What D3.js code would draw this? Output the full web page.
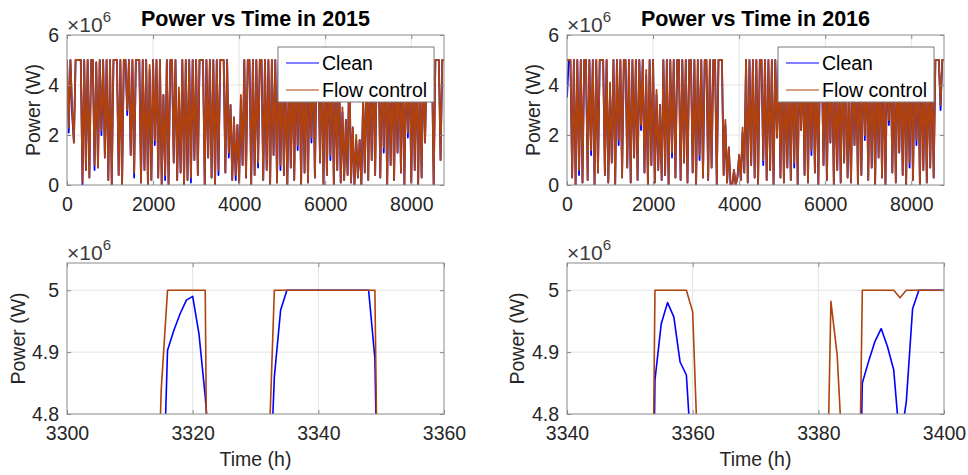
<!DOCTYPE html>
<html>
<head>
<meta charset="utf-8">
<script src="https://cdn.jsdelivr.net/npm/d3@7"></script>
<style>
  body { margin: 0; background: #fff; }
  svg { font-family: "Liberation Sans", Arial, sans-serif; }
</style>
</head>
<body>
<svg id="chart" width="968" height="475"></svg>
<script>
// ---- data (power in MW) ----
// full-year series, one sample every 40 h
const sampleStep = 40

const flow2015 = [
  5, 2.3, 5, 3.1, 1.7, 5, 5, 5, 5, 0.1,
  5, 0.6, 5, 0.3, 5, 5, 0.8, 4.9, 0.7, 5,
  2.2, 5, 1.1, 5, 0.2, 5, 0, 5, 5, 5,
  0.4, 5, 0, 5, 5, 3.0, 5, 1.2, 5, 0.5,
  5, 5, 5, 0.1, 5, 0.6, 5, 0, 4.8, 0.2,
  5, 1.8, 5, 0.3, 5, 0, 3.6, 0.4, 5, 0,
  5, 5, 0.9, 5, 0.2, 3.9, 0.5, 5, 0, 5,
  0.2, 5, 0.3, 5, 1.0, 5, 0.4, 5, 5, 5,
  0, 5, 1.1, 5, 0.3, 5, 0, 5, 0.6, 5,
  5, 5, 0.5, 5, 1.3, 3.2, 0.2, 2.7, 0.4, 2.4,
  0.1, 3.6, 0.8, 5, 0.3, 5, 5, 0, 5, 0.4,
  5, 0.9, 5, 5, 0.2, 5, 0.6, 5, 0, 5,
  1.2, 5, 0.1, 5, 0.8, 5, 0.4, 4.5, 0, 5,
  0.7, 5, 0.2, 5, 1.6, 5, 0, 5, 0.5, 5,
  0.1, 5, 1.9, 5, 0.3, 5, 5, 0.9, 5, 0,
  5, 0.4, 5, 1.2, 5, 0, 4.2, 0.6, 5, 0.1,
  3.1, 0.2, 2.6, 0.4, 5, 0.1, 2.3, 0, 2.0, 0.3,
  1.8, 0, 3.5, 0.5, 5, 0.2, 5, 1.0, 5, 0.4,
  5, 5, 0.3, 5, 1.5, 5, 0, 5, 0.8, 5,
  0.2, 5, 1.3, 5, 0.5, 5, 0, 5, 2.1, 5,
  0.1, 5, 0.6, 5, 0, 4.6, 0.3, 5, 1.7, 5,
  5, 5, 5, 0, 5, 5, 5, 1.0, 5, 5
]
const clean2015 = [
  5, 2.1, 5, 2.8, 1.7, 5, 5, 5, 5, 0,
  5, 0.6, 5, 0.3, 5, 5, 0.6, 4.9, 0.7, 5,
  2.0, 5, 1.1, 5, 0.2, 5, 0, 5, 5, 5,
  0.4, 5, 0, 5, 5, 2.8, 5, 1.2, 5, 0.3,
  5, 5, 5, 0.1, 5, 0.6, 5, 0, 4.6, 0.2,
  5, 1.6, 5, 0.3, 5, 0, 3.6, 0.2, 5, 0,
  5, 5, 0.9, 5, 0.2, 3.6, 0.5, 5, 0, 5,
  0.2, 5, 0.1, 5, 1.0, 5, 0.4, 5, 5, 5,
  0, 5, 1.1, 5, 0.3, 5, 0, 5, 0.4, 5,
  5, 5, 0.5, 5, 1.1, 3.2, 0.2, 2.7, 0.2, 2.4,
  0.1, 3.4, 0.8, 5, 0.3, 5, 5, 0, 5, 0.4,
  5, 0.7, 5, 5, 0.2, 5, 0.6, 5, 0, 5,
  1.2, 5, 0.1, 5, 0.6, 5, 0.4, 4.5, 0, 5,
  0.7, 5, 0.2, 5, 1.4, 5, 0, 5, 0.5, 5,
  0.1, 5, 1.7, 5, 0.3, 5, 5, 0.9, 5, 0,
  5, 0.4, 5, 1.0, 5, 0, 4.2, 0.6, 5, 0.1,
  2.9, 0.2, 2.6, 0.4, 5, 0.1, 2.3, 0, 1.8, 0.3,
  1.8, 0, 3.3, 0.5, 5, 0.2, 5, 1.0, 5, 0.4,
  5, 5, 0.3, 5, 1.3, 5, 0, 5, 0.8, 5,
  0.2, 5, 1.3, 5, 0.5, 5, 0, 5, 1.9, 5,
  0.1, 5, 0.6, 5, 0, 4.6, 0.3, 5, 1.7, 5,
  5, 5, 5, 0, 5, 5, 5, 1.0, 5, 5
]

const flow2016 = [
  5, 5, 5, 0.3, 5, 0, 5, 0.6, 5, 0.1,
  5, 5, 0.2, 5, 1.4, 5, 0, 5, 0.5, 5,
  5, 5, 0.4, 5, 0.1, 4.1, 0.9, 5, 0, 5,
  1.8, 5, 0.3, 5, 5, 0.7, 5, 0.1, 5, 1.1,
  5, 0.2, 5, 2.4, 5, 0.5, 4.6, 0, 5, 0.8,
  5, 0.1, 3.8, 0.6, 3.2, 0.2, 5, 0.4, 5, 0,
  5, 1.3, 5, 0.3, 5, 5, 0.2, 5, 0.9, 5,
  0.1, 5, 5, 0.5, 5, 0, 5, 1.2, 5, 0.3,
  5, 5, 0.2, 5, 0.7, 5, 5, 0, 5, 5,
  5, 0.4, 2.6, 0.1, 1.5, 0, 0, 0.6, 0, 0.3,
  1.2, 0.2, 2.3, 0.5, 5, 0.1, 5, 0.8, 5, 0.3,
  5, 0, 5, 5, 1.0, 5, 0.2, 5, 0.6, 5,
  0, 5, 1.9, 5, 0.3, 5, 0.1, 4.3, 0.7, 5,
  0.2, 5, 0.9, 5, 0, 5, 2.2, 5, 0.4, 5,
  0.1, 5, 1.4, 5, 0.5, 5, 0, 5, 5, 0.8,
  5, 0.2, 5, 1.7, 5, 0, 4.4, 0.6, 5, 0.1,
  5, 0.9, 5, 0.3, 3.7, 0.1, 5, 1.6, 5, 0,
  5, 0.4, 5, 2.0, 5, 0.2, 5, 0.7, 4.8, 0,
  5, 1.1, 5, 0.3, 5, 0, 5, 2.6, 5, 0.5,
  5, 0.1, 5, 1.3, 5, 0.4, 5, 0, 5, 0.9,
  5, 0.2, 5, 1.8, 5, 0, 5, 0.6, 5, 0.1,
  5, 0.7, 5, 0.3, 5, 5, 5, 3.2, 5, 5
]
const clean2016 = [
  3.5, 5, 5, 0.3, 5, 0, 5, 0.4, 5, 0.1,
  5, 5, 0.2, 5, 1.2, 5, 0, 5, 0.5, 5,
  5, 5, 0.4, 5, 0.1, 3.9, 0.9, 5, 0, 5,
  1.6, 5, 0.3, 5, 5, 0.7, 5, 0.1, 5, 1.1,
  5, 0.2, 5, 2.2, 5, 0.5, 4.4, 0, 5, 0.8,
  5, 0.1, 3.6, 0.6, 3.2, 0.2, 5, 0.4, 5, 0,
  5, 1.1, 5, 0.3, 5, 5, 0.2, 5, 0.9, 5,
  0.1, 5, 5, 0.5, 5, 0, 5, 1.0, 5, 0.3,
  5, 5, 0.2, 5, 0.7, 5, 5, 0, 5, 5,
  5, 0.4, 2.4, 0.1, 1.5, 0, 0, 0.6, 0, 0.3,
  1.2, 0.2, 2.1, 0.5, 5, 0.1, 5, 0.8, 5, 0.3,
  5, 0, 5, 5, 0.8, 5, 0.2, 5, 0.6, 5,
  0, 5, 1.9, 5, 0.3, 5, 0.1, 4.1, 0.7, 5,
  0.2, 5, 0.7, 5, 0, 5, 2.2, 5, 0.4, 5,
  0.1, 5, 1.2, 5, 0.5, 5, 0, 5, 5, 0.8,
  5, 0.2, 5, 1.7, 5, 0, 4.2, 0.6, 5, 0.1,
  5, 0.9, 5, 0.3, 3.5, 0.1, 5, 1.6, 5, 0,
  5, 0.4, 5, 1.8, 5, 0.2, 5, 0.7, 4.6, 0,
  5, 1.1, 5, 0.3, 5, 0, 5, 2.4, 5, 0.5,
  5, 0.1, 5, 1.3, 5, 0.4, 5, 0, 5, 0.7,
  5, 0.2, 5, 1.6, 5, 0, 5, 0.6, 5, 0.1,
  5, 0.7, 5, 0.3, 5, 5, 5, 3.0, 5, 5
]

// hourly close-ups
const zoomStart2015 = 3300
const clean2015Zoom = [
  1.2, 0.8, 0.5, 0.9, 1.6, 2.4, 3.1, 2.7, 2.2, 2.9,
  3.5, 3.9, 4.1, 4.3, 4.4, 4.56, 4.903, 4.935, 4.962, 4.984,
  4.990, 4.930, 4.828, 4.70, 4.3, 3.6, 3.0, 2.6, 2.9, 3.4,
  3.9, 4.3, 4.6, 4.86, 4.968, 5, 5, 5, 5, 5,
  5, 5, 5, 5, 5, 5, 5, 5, 5, 4.89,
  4.33, 3.8, 3.1, 2.5, 2.0, 1.6, 1.3, 1.1, 0.9, 1.0,
  1.2
]
const flow2015Zoom = [
  1.4, 1.0, 0.7, 1.1, 1.9, 2.8, 3.5, 3.1, 2.6, 3.3,
  3.9, 4.2, 4.3, 4.4, 4.5, 4.84, 5, 5, 5, 5,
  5, 5, 5, 3.8, 3.5, 3.2, 2.9, 2.8, 3.1, 3.6,
  4.0, 4.4, 4.70, 5, 5, 5, 5, 5, 5, 5,
  5, 5, 5, 5, 5, 5, 5, 5, 5, 5,
  4.2, 3.9, 3.3, 2.8, 2.3, 1.9, 1.6, 1.4, 1.2, 1.3,
  1.5
]
const zoomStart2016 = 3340
const clean2016Zoom = [
  2.1, 2.5, 2.9, 3.3, 3.0, 2.6, 2.8, 3.2, 3.6, 3.9,
  4.1, 4.2, 4.3, 4.0, 4.855, 4.946, 4.980, 4.957, 4.884, 4.863,
  4.70, 4.2, 3.6, 3.1, 2.6, 2.2, 1.9, 1.7, 1.6, 1.8,
  2.1, 2.5, 2.8, 3.2, 3.5, 3.8, 4.0, 4.1, 4.2, 4.3,
  4.3, 4.2, 4.4, 4.3, 4.1, 4.0, 4.3, 4.85, 4.885, 4.917,
  4.938, 4.909, 4.871, 4.75, 4.82, 4.97, 5, 5, 5, 5,
  5
]
const flow2016Zoom = [
  2.4, 2.8, 3.2, 3.6, 3.3, 2.9, 3.1, 3.5, 3.9, 4.2,
  4.4, 4.5, 4.4, 4.0, 5, 5, 5, 5, 5, 5,
  4.965, 4.68, 4.3, 3.9, 3.4, 2.9, 2.5, 2.2, 2.0, 1.9,
  2.1, 2.4, 2.8, 3.1, 3.5, 3.8, 4.1, 4.3, 4.4, 4.5,
  4.6, 4.45, 4.982, 4.895, 4.7, 4.5, 4.3, 5, 5, 5,
  5, 5, 5, 4.988, 5, 5, 5, 5, 5, 5,
  5
]

const seriesNames = ['Clean', 'Flow control']
const titles = ['Power vs Time in 2015', 'Power vs Time in 2016']
const yearTicks = [0, 2000, 4000, 6000, 8000]
const yearPowerTicks = [0, 2, 4, 6]
const zoomPowerTicks = [4.8, 4.9, 5]
const zoomTicks2015 = [3300, 3320, 3340, 3360]
const zoomTicks2016 = [3340, 3360, 3380, 3400]

// ---- style ----
const cleanColor = '#0000ff'
const flowColor = '#b0420e'
const axisColor = '#8a8a8a'
const gridColor = '#e4e4e4'
const textColor = '#262626'
const fontSize = 19.5

const svg = d3.select('#chart')

const panels = [
  {
    left: 67, right: 444, top: 35, bottom: 185,
    xDomain: [0, 8760], yDomain: [0, 6],
    xTicks: yearTicks, yTicks: yearPowerTicks,
    title: titles[0], legend: true, ylabelX: 40, xlabel: false,
    series: [
      { values: clean2015, start: 0, step: sampleStep, color: cleanColor, width: 1.8 },
      { values: flow2015, start: 0, step: sampleStep, color: flowColor, width: 1.8 }
    ]
  },
  {
    left: 567, right: 944, top: 35, bottom: 185,
    xDomain: [0, 8760], yDomain: [0, 6],
    xTicks: yearTicks, yTicks: yearPowerTicks,
    title: titles[1], legend: true, ylabelX: 540, xlabel: false,
    series: [
      { values: clean2016, start: 0, step: sampleStep, color: cleanColor, width: 1.8 },
      { values: flow2016, start: 0, step: sampleStep, color: flowColor, width: 1.8 }
    ]
  },
  {
    left: 67, right: 444, top: 263, bottom: 414,
    xDomain: [3300, 3360], yDomain: [4.8, 5.044],
    xTicks: zoomTicks2015, yTicks: zoomPowerTicks,
    title: null, legend: false, ylabelX: 25, xlabel: true,
    series: [
      { values: clean2015Zoom, start: zoomStart2015, step: 1, color: cleanColor, width: 1.6 },
      { values: flow2015Zoom, start: zoomStart2015, step: 1, color: flowColor, width: 1.6 }
    ]
  },
  {
    left: 567, right: 944, top: 263, bottom: 414,
    xDomain: [3340, 3400], yDomain: [4.8, 5.044],
    xTicks: zoomTicks2016, yTicks: zoomPowerTicks,
    title: null, legend: false, ylabelX: 524, xlabel: true,
    series: [
      { values: clean2016Zoom, start: zoomStart2016, step: 1, color: cleanColor, width: 1.6 },
      { values: flow2016Zoom, start: zoomStart2016, step: 1, color: flowColor, width: 1.6 }
    ]
  }
]

function styleAxis(sel) {
  sel.attr('font-size', fontSize).attr('font-family', null)
  sel.select('.domain').remove()
  sel.selectAll('line').attr('stroke', axisColor)
  sel.selectAll('text').attr('fill', textColor)
}

panels.forEach((p, pi) => {
  const g = svg.append('g')
  const x = d3.scaleLinear().domain(p.xDomain).range([p.left, p.right])
  const y = d3.scaleLinear().domain(p.yDomain).range([p.bottom, p.top])

  // grid
  g.selectAll('line.gx')
    .data(p.xTicks.filter(d => x(d) > p.left + 1 && x(d) < p.right - 1))
    .enter().append('line')
    .attr('x1', d => x(d)).attr('x2', d => x(d))
    .attr('y1', p.top).attr('y2', p.bottom)
    .attr('stroke', gridColor)
  g.selectAll('line.gy')
    .data(p.yTicks.filter(d => y(d) > p.top + 1 && y(d) < p.bottom - 1))
    .enter().append('line')
    .attr('y1', d => y(d)).attr('y2', d => y(d))
    .attr('x1', p.left).attr('x2', p.right)
    .attr('stroke', gridColor)

  // lines
  const clipId = 'clip' + pi
  svg.append('clipPath').attr('id', clipId)
    .append('rect')
    .attr('x', p.left).attr('y', p.top)
    .attr('width', p.right - p.left).attr('height', p.bottom - p.top)

  p.series.forEach(s => {
    const line = d3.line()
      .x((d, i) => x(s.start + i * s.step))
      .y(d => y(d))
    g.append('path')
      .datum(s.values)
      .attr('clip-path', `url(#${clipId})`)
      .attr('d', line)
      .attr('fill', 'none')
      .attr('stroke', s.color)
      .attr('stroke-width', s.width)
      .attr('stroke-linejoin', 'round')
  })

  // axes (inward ticks, MATLAB box style)
  const fmt = d => String(+d.toFixed(2))
  g.append('g').attr('transform', `translate(0,${p.bottom})`)
    .call(d3.axisBottom(x).tickValues(p.xTicks).tickSizeInner(-4).tickSizeOuter(0).tickPadding(12).tickFormat(d3.format('d')))
    .call(styleAxis)
  g.append('g').attr('transform', `translate(0,${p.top})`)
    .call(d3.axisTop(x).tickValues(p.xTicks).tickSizeInner(-4).tickSizeOuter(0).tickFormat(''))
    .call(styleAxis)
  g.append('g').attr('transform', `translate(${p.left},0)`)
    .call(d3.axisLeft(y).tickValues(p.yTicks).tickSizeInner(-4).tickSizeOuter(0).tickPadding(8).tickFormat(fmt))
    .call(styleAxis)
  g.append('g').attr('transform', `translate(${p.right},0)`)
    .call(d3.axisRight(y).tickValues(p.yTicks).tickSizeInner(-4).tickSizeOuter(0).tickFormat(''))
    .call(styleAxis)

  g.append('rect')
    .attr('x', p.left).attr('y', p.top)
    .attr('width', p.right - p.left).attr('height', p.bottom - p.top)
    .attr('fill', 'none').attr('stroke', axisColor).attr('stroke-width', 1)

  // exponent
  const ex = g.append('text')
    .attr('x', p.left).attr('y', p.top - 3.5)
    .attr('fill', '#3c3c3c').attr('font-size', 21)
  ex.append('tspan').text('\u00d710')
  ex.append('tspan').attr('dy', -10).attr('font-size', 15).text('6')

  // y label
  g.append('text')
    .attr('transform', `translate(${p.ylabelX},${(p.top + p.bottom) / 2}) rotate(-90)`)
    .attr('text-anchor', 'middle')
    .attr('fill', textColor).attr('font-size', fontSize)
    .text('Power (W)')

  if (p.xlabel) {
    g.append('text')
      .attr('x', (p.left + p.right) / 2).attr('y', 466)
      .attr('text-anchor', 'middle')
      .attr('fill', textColor).attr('font-size', fontSize)
      .text('Time (h)')
  }

  if (p.title) {
    g.append('text')
      .attr('x', (p.left + p.right) / 2).attr('y', 26)
      .attr('text-anchor', 'middle')
      .attr('font-weight', 'bold').attr('font-size', 21.5)
      .attr('fill', '#000')
      .text(p.title)
  }

  if (p.legend) {
    const lw = 156, lh = 55
    const lx = p.right - 10 - lw, ly = 47
    const lg = g.append('g')
    lg.append('rect')
      .attr('x', lx).attr('y', ly).attr('width', lw).attr('height', lh)
      .attr('fill', '#fff').attr('stroke', '#7a7a7a').attr('stroke-width', 1)
    const items = lg.selectAll('g.item')
      .data(p.series.map((s, i) => ({ name: seriesNames[i], color: s.color })))
      .enter().append('g')
      .attr('transform', (d, i) => `translate(${lx},${ly + 16 + i * 27})`)
    items.append('line')
      .attr('x1', 8).attr('x2', 41)
      .attr('stroke', d => d.color).attr('stroke-width', 1.2)
    items.append('text')
      .attr('x', 44).attr('y', 6.5)
      .attr('fill', '#000').attr('font-size', fontSize)
      .text(d => d.name)
  }
})
</script>
</body>
</html>
